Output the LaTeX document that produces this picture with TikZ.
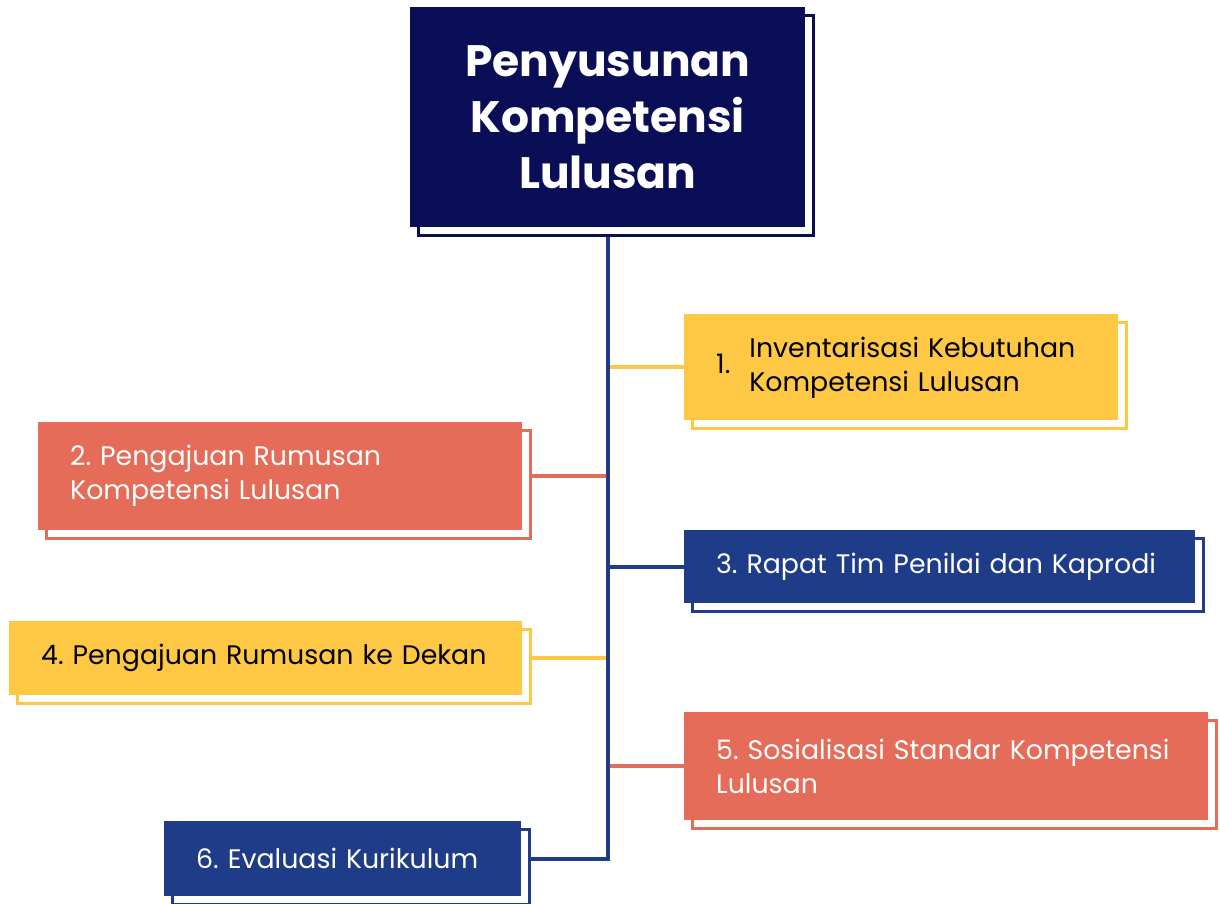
\documentclass[tikz,border=0pt]{standalone}
\usepackage{fontspec}
\setmainfont{Poppins}
\usetikzlibrary{shadows,backgrounds}
\frenchspacing

\definecolor{navy}{HTML}{0A0E56}
\definecolor{stepblue}{HTML}{1F3C88}
\definecolor{stepyellow}{HTML}{FEC845}
\definecolor{stepred}{HTML}{E46C58}

\newcommand\itemfont{\fontsize{26.8}{34}\selectfont}
\newcommand\headfont{\fontsize{44}{56}\selectfont\bfseries}

\tikzset{
  cardframe/.style={copy shadow={shadow xshift=8pt, shadow yshift=-8pt,
      fill=white, draw=#1, line width=2.6pt}},
  card/.style n args={3}{anchor=north west, inner sep=0pt,
      minimum width=#1, minimum height=#2, text width=#3,
      align=left, font=\itemfont},
  yellowcard/.style={fill=stepyellow, text=black, cardframe=stepyellow},
  redcard/.style={fill=stepred, text=white, cardframe=stepred},
  bluecard/.style={fill=stepblue, text=white, cardframe=stepblue},
  link/.style={line width=3.8pt, draw=#1},
}

\begin{document}
\begin{tikzpicture}[x=1pt, y=-1pt]
\useasboundingbox (0,0) rectangle (1220,903);

% heading
\node[anchor=north west, inner sep=0pt, minimum width=395pt, minimum height=220pt,
      fill=navy, text=white, align=center, font=\headfont, cardframe=navy]
  (title) at (410,7) {Penyusunan\\Kompetensi\\Lulusan};

% steps
\node[card={434pt}{106pt}{370pt}, yellowcard] (b1) at (684,314)
  {1.\hspace{19pt}\begin{tabular}[c]{@{}l@{}}Inventarisasi Kebutuhan\\Kompetensi Lulusan\end{tabular}};
\node[card={484pt}{108pt}{420pt}, redcard] (b2) at (38,422)
  {2. Pengajuan Rumusan\\Kompetensi Lulusan};
\node[card={511pt}{73pt}{447pt}, bluecard] (b3) at (684,530)
  {3. Rapat Tim Penilai dan Kaprodi};
\node[card={513pt}{74pt}{449pt}, yellowcard] (b4) at (9,621)
  {4. Pengajuan Rumusan ke Dekan};
\node[card={524pt}{108pt}{460pt}, redcard] (b5) at (684,712)
  {5. Sosialisasi Standar Kompetensi\\Lulusan};
\node[card={357pt}{75pt}{293pt}, bluecard] (b6) at (164,821)
  {6. Evaluasi Kurikulum};

% connectors
\begin{scope}[on background layer]
  \draw[link=stepyellow] (b1.west -| title.south) -- (b1.west);
  \draw[link=stepred] ([xshift=8pt]b2.east) -- (b2.east -| title.south);
  \draw[link=stepblue] (b3.west -| title.south) -- (b3.west);
  \draw[link=stepyellow] ([xshift=8pt]b4.east) -- (b4.east -| title.south);
  \draw[link=stepred] (b5.west -| title.south) -- (b5.west);
  \draw[link=stepblue] (title.south) |- ([xshift=8pt]b6.east);
\end{scope}
\end{tikzpicture}
\end{document}
